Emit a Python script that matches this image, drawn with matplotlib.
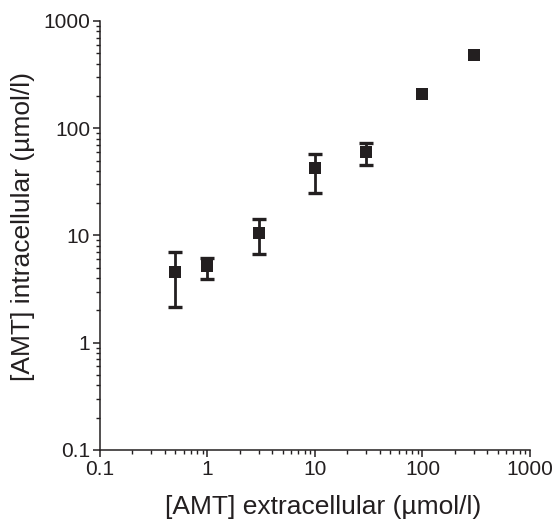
import matplotlib
matplotlib.use("Agg")
import matplotlib.pyplot as plt
from matplotlib.ticker import LogLocator, NullFormatter

plt.rcParams['font.family'] = ['Liberation Sans', 'DejaVu Sans']

# data
x_extra = [0.5, 1, 3, 10, 30, 100, 300]
y_intra = [4.6, 5.2, 10.5, 42.4, 59.8, 210, 477]
y_upper = [7.0, 6.2, 14.1, 58.1, 72.6, None, None]
y_lower = [2.15, 3.9, 6.65, 24.9, 45.2, None, None]

xticks = [0.1, 1, 10, 100, 1000]
xtick_labels = ['0.1', '1', '10', '100', '1000']
yticks = [0.1, 1, 10, 100, 1000]
ytick_labels = ['0.1', '1', '10', '100', '1000']

color = '#231f20'

fig = plt.figure(figsize=(5.55, 5.25), dpi=100)
ax = fig.add_axes([0.180, 0.143, 0.775, 0.817])

ex, ey, elo, ehi = [], [], [], []
for xv, yv, up, lo in zip(x_extra, y_intra, y_upper, y_lower):
    if up is not None:
        ex.append(xv); ey.append(yv)
        elo.append(yv - lo); ehi.append(up - yv)

ax.errorbar(ex, ey, yerr=[elo, ehi], fmt='none', ecolor=color,
            elinewidth=2.0, capsize=5, capthick=2.4, zorder=2)
ax.plot(x_extra, y_intra, 's', color=color, markersize=8, zorder=3,
        markeredgewidth=0)

ax.set_xscale('log')
ax.set_yscale('log')
ax.set_xlim(0.1, 1000)
ax.set_ylim(0.1, 1000)

ax.set_xticks(xticks)
ax.set_xticklabels(xtick_labels)
ax.set_yticks(yticks)
ax.set_yticklabels(ytick_labels)
ax.xaxis.set_minor_locator(LogLocator(base=10, subs=range(2, 10), numticks=20))
ax.yaxis.set_minor_locator(LogLocator(base=10, subs=range(2, 10), numticks=20))
ax.xaxis.set_minor_formatter(NullFormatter())
ax.yaxis.set_minor_formatter(NullFormatter())

for s in ['top', 'right']:
    ax.spines[s].set_visible(False)
for s in ['left', 'bottom']:
    ax.spines[s].set_linewidth(1.1)
    ax.spines[s].set_color(color)

ax.tick_params(which='major', direction='out', length=5, width=1.1,
               labelsize=15, colors=color, pad=2)
ax.tick_params(which='minor', direction='out', length=3, width=1.0, colors=color)

ax.set_xlabel('[AMT] extracellular (µmol/l)', fontsize=19, color=color,
              labelpad=12, x=0.52)
ax.set_ylabel('[AMT] intracellular (µmol/l)', fontsize=19, color=color,
              labelpad=6, y=0.52)

fig.savefig('out.png', dpi=100)
